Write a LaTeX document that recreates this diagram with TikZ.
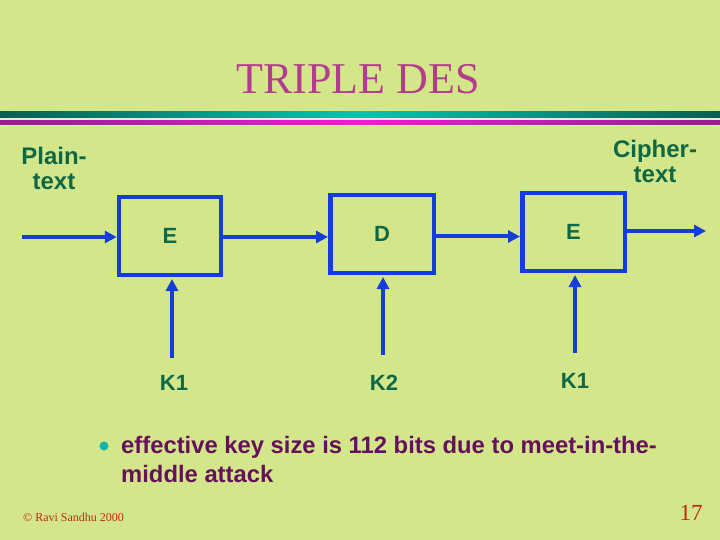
\documentclass[tikz,border=0pt]{standalone}
\usepackage{fontspec}
\setmainfont{Liberation Serif}
\setsansfont{Liberation Sans}
\usetikzlibrary{arrows.meta}
\definecolor{bg}{RGB}{211,231,138}
\definecolor{lblue}{RGB}{20,62,220}
\definecolor{dgreen}{RGB}{14,104,70}
\definecolor{titlec}{RGB}{180,60,140}
\definecolor{purp}{RGB}{102,16,92}
\definecolor{tealb}{RGB}{20,180,170}
\definecolor{footc}{RGB}{190,40,20}
\definecolor{tealdark}{RGB}{10,95,80}
\definecolor{teallight}{RGB}{16,192,176}
\definecolor{magdark}{RGB}{150,30,140}
\definecolor{maglight}{RGB}{225,35,210}
\definecolor{paleline}{RGB}{232,236,208}
\tikzset{
  blockbox/.style={draw=lblue, line width=4.5bp, minimum width=102bp, minimum height=77.5bp, inner sep=0pt,
    text=dgreen, font=\sffamily\bfseries\fontsize{22bp}{26bp}\selectfont},
  flow/.style={draw=lblue, line width=4bp, -{Triangle[length=12bp,width=12bp]}},
  lbl/.style={text=dgreen, font=\sffamily\bfseries\fontsize{22bp}{26bp}\selectfont, inner sep=0pt, anchor=base},
  sidelbl/.style={lbl, font=\sffamily\bfseries\fontsize{24bp}{26bp}\selectfont},
  bodytext/.style={text=purp, font=\sffamily\bfseries\fontsize{23.8bp}{29bp}\selectfont, inner sep=0pt, anchor=base west}
}
\begin{document}
\begin{tikzpicture}[x=1bp,y=-1bp]
\fill[bg] (0,0) rectangle (720,540);
\useasboundingbox (0,0) rectangle (720,540);
% header bands
\shade[left color=tealdark, right color=tealdark, middle color=teallight] (0,112) rectangle (720,118.5);
\fill[paleline] (0,118.5) rectangle (720,121);
\shade[left color=magdark, right color=magdark, middle color=maglight] (0,121) rectangle (720,125.5);
\fill[paleline!70!bg] (0,125.5) rectangle (720,126.5);
% title
\node[anchor=base, inner sep=0pt, text=titlec, font=\fontsize{44bp}{50bp}\selectfont] (title) at (358,94) {TRIPLE DES};
% side labels
\node[sidelbl] (plain1) at (54,165) {Plain-};
\node[sidelbl] (plain2) at (54,190) {text};
\node[sidelbl] (ciph1) at (655,158) {Cipher-};
\node[sidelbl] (ciph2) at (655,183) {text};
% boxes
\node[blockbox] (b1) at (170,236) {E};
\node[blockbox, minimum width=103.5bp] (b2) at (382,234) {D};
\node[blockbox, minimum width=102.5bp] (b3) at (573.5,232) {E};
% horizontal flow
\coordinate (pin) at (22,237);
\coordinate (cout) at (706,231);
\draw[flow] (pin) -- (pin -| b1.west);
\draw[flow] ([yshift=-1bp]b1.east) -- ([yshift=-1bp]b1.east -| b2.west);
\draw[flow] ([yshift=-2.5bp]b2.east) -- ([yshift=-2.5bp]b2.east -| b3.west);
\draw[flow] (b3.east |- cout) -- (cout);
% keys
\coordinate (k1s) at (172,358);
\coordinate (k2s) at (383,355);
\coordinate (k3s) at (575,353);
\draw[flow] (k1s) -- ([yshift=-2bp]k1s |- b1.south);
\draw[flow] (k2s) -- ([yshift=-2bp]k2s |- b2.south);
\draw[flow] (k3s) -- ([yshift=-2bp]k3s |- b3.south);
\node[lbl] (k1) at (174,390) {K1};
\node[lbl] (k2) at (384,390) {K2};
\node[lbl] (k3) at (575,388) {K1};
% bullet
\fill[tealb] (104,446) circle (4.5bp);
\node[bodytext] (line1) at (121,453) {effective key size is 112 bits due to meet-in-the-};
\node[bodytext] (line2) at (121,482) {middle attack};
% footer
\node[anchor=base west, inner sep=0pt, text=footc, font=\fontsize{12bp}{14bp}\selectfont] (foot) at (23,521) {© Ravi Sandhu 2000};
\node[anchor=base, inner sep=0pt, text=footc, font=\fontsize{23bp}{26bp}\selectfont] (pnum) at (691,520) {17};
\end{tikzpicture}
\end{document}
